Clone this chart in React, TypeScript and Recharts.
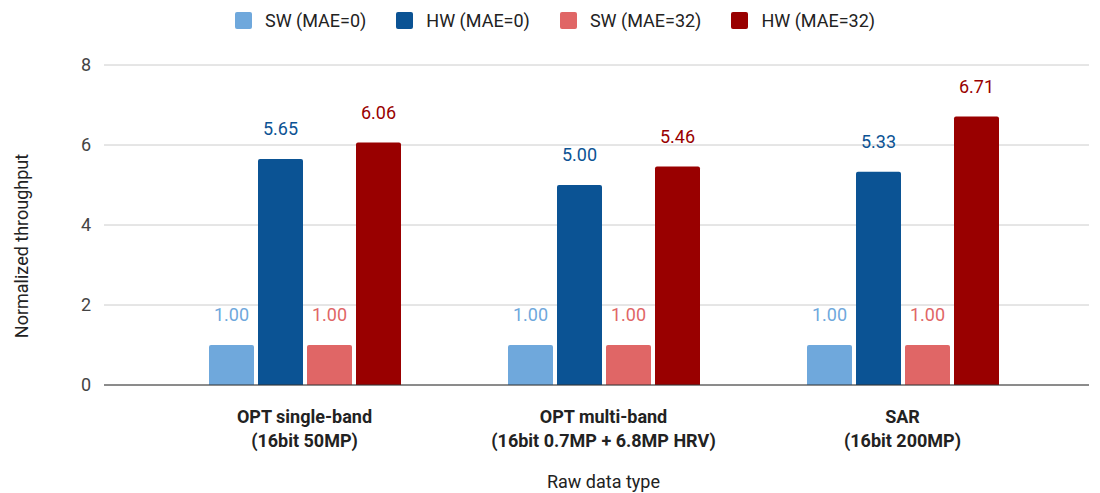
import React from "react";
import { BarChart, Bar, XAxis, YAxis, CartesianGrid, Legend, LabelList, Label } from "recharts";

const categories = ["OPT single-band|(16bit 50MP)", "OPT multi-band|(16bit 0.7MP + 6.8MP HRV)", "SAR|(16bit 200MP)"];
const swMae0 = [1.0, 1.0, 1.0];
const hwMae0 = [5.65, 5.0, 5.33];
const swMae32 = [1.0, 1.0, 1.0];
const hwMae32 = [6.06, 5.46, 6.71];
const yTicks = [0, 2, 4, 6, 8];

const series = [
  { key: "sw0", name: "SW (MAE=0)", color: "#6fa8dc" },
  { key: "hw0", name: "HW (MAE=0)", color: "#0b5394" },
  { key: "sw32", name: "SW (MAE=32)", color: "#e06666" },
  { key: "hw32", name: "HW (MAE=32)", color: "#990000" },
];

const data = categories.map((c, i) => ({
  cat: c,
  sw0: swMae0[i],
  hw0: hwMae0[i],
  sw32: swMae32[i],
  hw32: hwMae32[i],
}));

const FONT = "Roboto, 'Noto Sans', sans-serif";

const CatTick = (props: any) => {
  const { x, y, payload } = props;
  const lines = String(payload.value).split("|");
  return (
    <g>
      {lines.map((l, i) => (
        <text key={i} x={x} y={y + 30 + i * 24} textAnchor="middle" fontFamily={FONT} fontSize={18} fontWeight="bold" fill="#222">
          {l}
        </text>
      ))}
    </g>
  );
};

const LegendContent = () => (
  <div style={{ display: "flex", justifyContent: "center", alignItems: "center", fontFamily: FONT, fontSize: 18, color: "#222", paddingLeft: 10, marginTop: 2 }}>
    {series.map((s, i) => (
      <div key={s.key} style={{ display: "flex", alignItems: "center", marginLeft: i === 0 ? 0 : 30 }}>
        <div style={{ width: 17, height: 17, background: s.color, borderRadius: 2, marginRight: 13 }} />
        <span>{s.name}</span>
      </div>
    ))}
  </div>
);

const YLabel = (props: any) => {
  const { viewBox } = props;
  const cx = viewBox.x + 21;
  const cy = 246;
  return (
    <text x={cx} y={cy} transform={`rotate(-90, ${cx}, ${cy})`} textAnchor="middle" dominantBaseline="central" fontFamily={FONT} fontSize={18} fill="#222">
      Normalized throughput
    </text>
  );
};

export default function App() {
  return (
    <div style={{ position: "absolute", left: 0, top: 0, width: 1100, height: 493, background: "#fff" }}>
      <BarChart width={1100} height={493} data={data} margin={{ top: 65, right: 11, left: 0, bottom: 0 }} barGap={4} barSize={45}>
        <CartesianGrid vertical={false} stroke="#cccccc" />
        <XAxis
          dataKey="cat"
          height={108}
          axisLine={{ stroke: "#333333" }}
          tickLine={false}
          tick={<CatTick />}
          interval={0}
          padding={{ left: 51, right: 37 }}
        >
          <Label value="Raw data type" position="insideBottom" offset={5} dx={7} style={{ fontFamily: FONT, fontSize: 18, fill: "#222" }} />
        </XAxis>
        <YAxis
          width={104}
          domain={[0, 8]}
          ticks={yTicks}
          axisLine={false}
          tickLine={false}
          tickSize={0}
          tickMargin={13}
          tick={{ fontFamily: FONT, fontSize: 18, fill: "#444" }}
          label={<YLabel />}
        />
        <Legend verticalAlign="middle" layout="horizontal" content={<LegendContent />} wrapperStyle={{ top: 8, left: 0, width: 1100 }} />
        {series.map((s) => (
          <Bar key={s.key} dataKey={s.key} name={s.name} fill={s.color} radius={[2, 2, 0, 0]} isAnimationActive={false}>
            <LabelList
              dataKey={s.key}
              position="top"
              offset={24}
              formatter={(v: any) => Number(v).toFixed(2)}
              style={{ fontFamily: FONT, fontSize: 18, fill: s.color }}
            />
          </Bar>
        ))}
      </BarChart>
    </div>
  );
}
